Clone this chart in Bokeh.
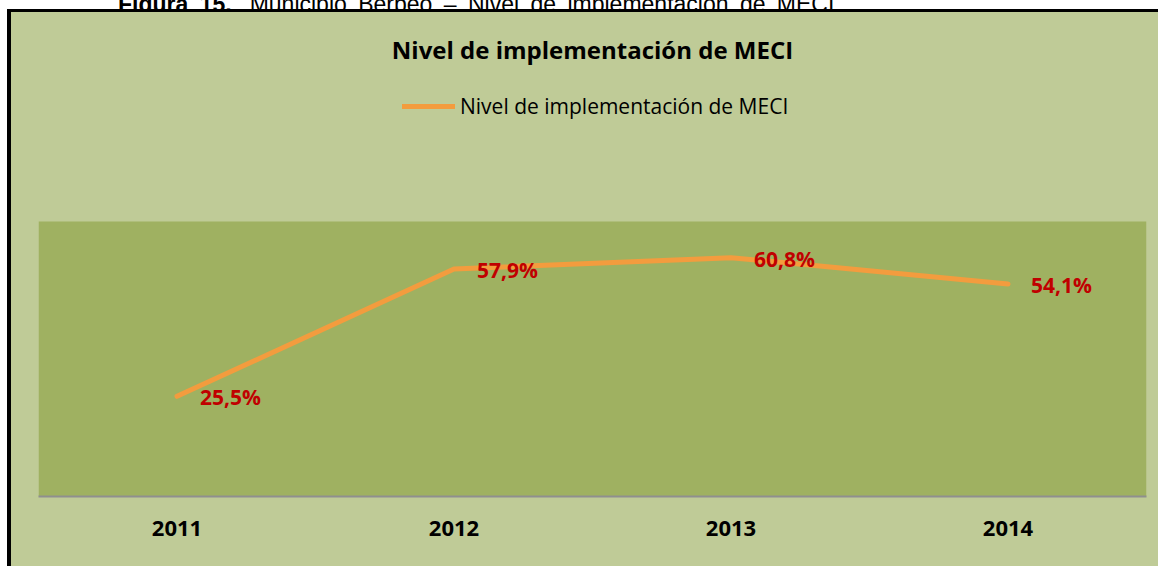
from bokeh.plotting import figure
from bokeh.models import Label, Legend, LegendItem, ColumnDataSource, LabelSet, Range1d, BoxAnnotation, Div
from bokeh.layouts import column
from bokeh.core.properties import value
from bokeh.embed import file_html
from bokeh.resources import INLINE

years = ["2011", "2012", "2013", "2014"]
values = [25.5, 57.9, 60.8, 54.1]
value_labels = ["25,5%", "57,9%", "60,8%", "54,1%"]
series_name = "Nivel de implementación de MECI"
chart_title = "Nivel de implementación de MECI"
caption_bold = "Figura 15."
caption_rest = "Municipio Berbeo – Nivel de implementación de MECI"

LIGHT = "#BFCB97"
DARK = "#9FB161"
ORANGE = "#F39C3E"
RED = "#C00000"

src = ColumnDataSource(dict(x=years, y=values, lab=value_labels))

caption = Div(
    text=('<div style="margin-top:-15px; margin-left:118px; white-space:nowrap; word-spacing:5px; '
          'font-family:\'Liberation Sans\', Arial, sans-serif; font-size:23px; line-height:23px; color:black;">'
          '<b>' + caption_bold + '</b><span style="margin-left:18px">' + caption_rest + '</span></div>'),
    width=1160, height=9, styles={"overflow": "hidden", "margin": "0", "padding": "0"})

p = figure(width=1151, height=557, x_range=years, y_range=Range1d(0, 123.2),
           output_backend="svg", toolbar_location=None,
           min_border_left=27, min_border_right=16, min_border_top=0, min_border_bottom=73)
p.title.visible = False
p.styles = {"border-left": "4px solid black", "border-top": "3px solid black",
            "margin-left": "7px", "margin-top": "0px", "background-color": LIGHT}
p.border_fill_color = LIGHT
p.border_fill_alpha = 0
p.background_fill_color = LIGHT
p.background_fill_alpha = 0
p.outline_line_color = None
p.xgrid.grid_line_color = None
p.ygrid.grid_line_color = None
p.yaxis.visible = False
p.xaxis.axis_line_color = "#8F8F8F"
p.xaxis.axis_line_width = 2
p.xaxis.major_tick_line_color = None
p.xaxis.minor_tick_line_color = None
p.xaxis.major_label_text_font = "Open Sans"
p.xaxis.major_label_text_font_style = "bold"
p.xaxis.major_label_text_font_size = "22px"
p.xaxis.major_label_text_color = "black"
p.xaxis.major_label_standoff = 18

plot_area = BoxAnnotation(bottom=0, top=70, fill_color=DARK, fill_alpha=1,
                          line_color=None, level="underlay")
p.add_layout(plot_area)

r = p.line("x", "y", source=src, line_color=ORANGE, line_width=5, line_cap="round", line_join="round")

labels = LabelSet(x="x", y="y", text="lab", source=src, x_offset=23, y_offset=-1,
                  text_align="left", text_baseline="middle", text_color=RED,
                  text_font=value("Open Sans"), text_font_style="bold", text_font_size="21px")
p.add_layout(labels)

title = Label(x=2.0, y=113.8, text=chart_title, text_align="center", text_baseline="middle",
              text_font="Open Sans", text_font_style="bold", text_font_size="24px",
              text_color="black")
p.add_layout(title)

legend = Legend(items=[LegendItem(label=series_name, renderers=[r])], location=(364, 376),
                orientation="horizontal", background_fill_alpha=0, border_line_color=None,
                padding=0, margin=0, glyph_width=53, glyph_height=22, label_height=22,
                label_standoff=5, label_text_font="Open Sans", label_text_font_size="21px",
                label_text_color="black")
p.add_layout(legend)

layout = column(caption, p, spacing=0)
open("out.html", "w").write(file_html(layout, INLINE))
